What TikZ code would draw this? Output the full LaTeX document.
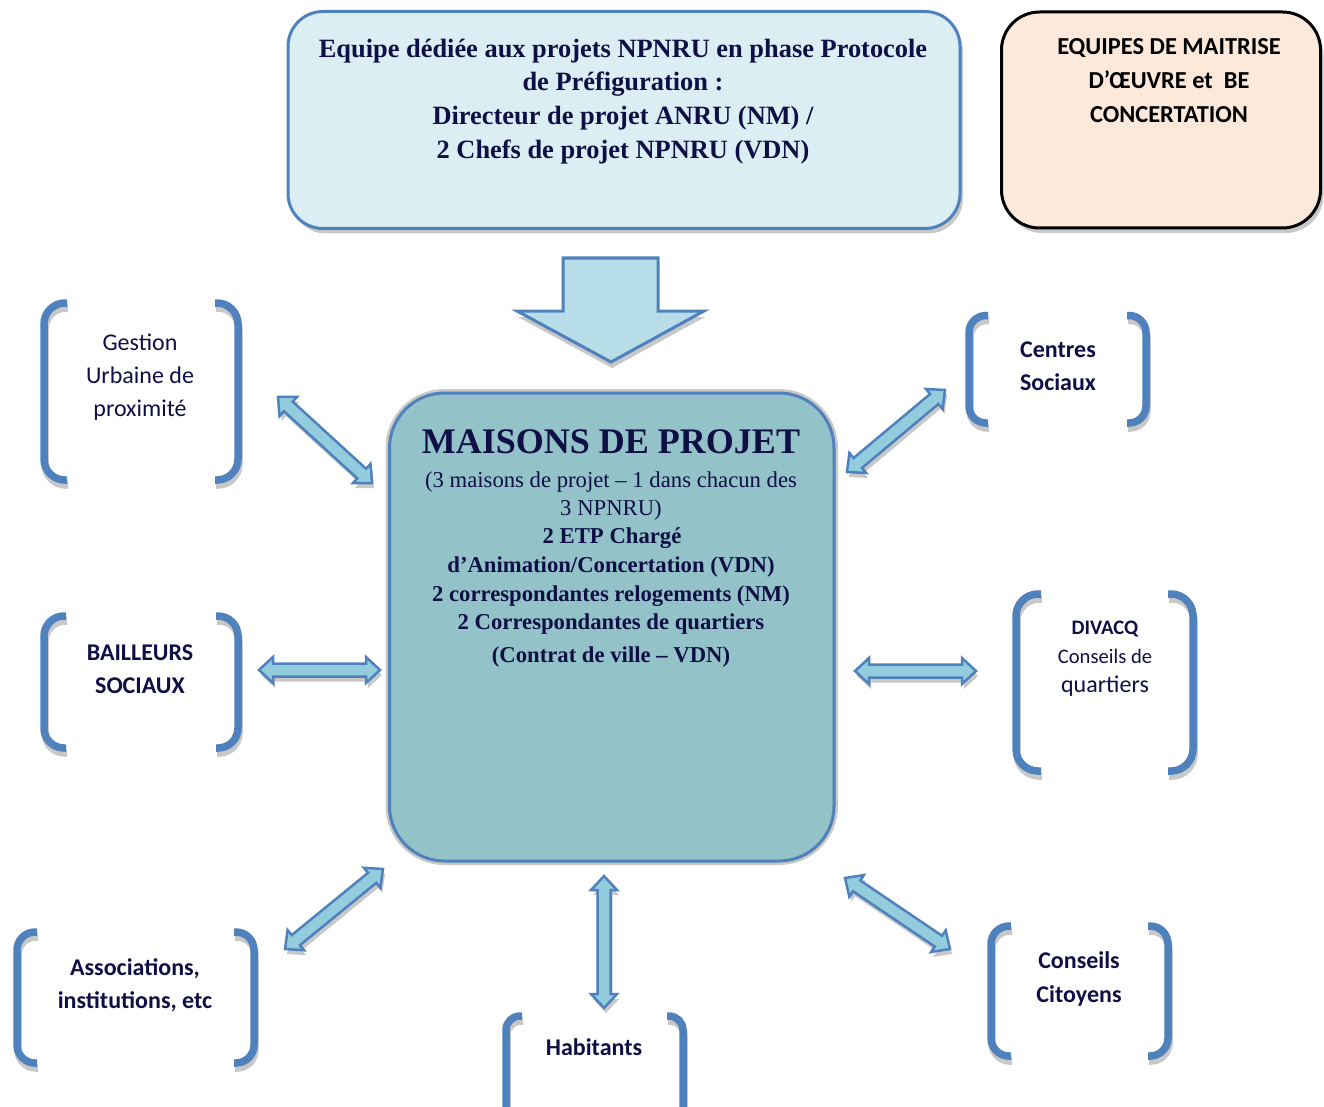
\documentclass[tikz,border=0pt]{standalone}
\usepackage{fontspec}
\setmainfont{Liberation Serif}
\newfontfamily\calib{Carlito}
\usetikzlibrary{calc,shadows}
\definecolor{navy}{HTML}{0F0F46}
\definecolor{bblue}{HTML}{4F81BD}
\definecolor{topfill}{HTML}{DAEEF3}
\definecolor{midfill}{RGB}{147,194,200}
\definecolor{arrfill}{HTML}{93CDDD}
\definecolor{downfill}{HTML}{B7DDE8}
\definecolor{peach}{HTML}{FDE9D9}
\definecolor{shadowgray}{RGB}{200,200,200}
\newcommand\arrpath[2]{(#1) -- ($(#1)!14pt!(#2)!13pt!90:(#2)$) -- ($(#1)!14pt!(#2)!6.5pt!90:(#2)$) -- ($(#2)!14pt!(#1)!6.5pt!-90:(#1)$) -- ($(#2)!14pt!(#1)!13pt!-90:(#1)$) -- (#2) -- ($(#2)!14pt!(#1)!13pt!90:(#1)$) -- ($(#2)!14pt!(#1)!6.5pt!90:(#1)$) -- ($(#1)!14pt!(#2)!6.5pt!-90:(#2)$) -- ($(#1)!14pt!(#2)!13pt!-90:(#2)$) -- cycle}
\newcommand\dblarrow[2]{%
  \path[arrshadow, transform canvas={shift={(2,5)}}] \arrpath{#1}{#2};
  \path[arrbody] \arrpath{#1}{#2};}
% left x, right x, top y, bottom y, stub, radius
\newcommand\brackets[6]{%
  \draw[brk, draw=shadowgray, shift={(1,5)}, rounded corners=#6] (#1+#5,#3) -- (#1,#3) -- (#1,#4) -- (#1+#5,#4) (#2-#5,#3) -- (#2,#3) -- (#2,#4) -- (#2-#5,#4);
  \draw[brk, draw=bblue, rounded corners=#6] (#1+#5,#3) -- (#1,#3) -- (#1,#4) -- (#1+#5,#4) (#2-#5,#3) -- (#2,#3) -- (#2,#4) -- (#2-#5,#4);}
\begin{document}
\begin{tikzpicture}[x=1pt,y=-1pt,
  lbl/.style={inner sep=0pt, anchor=base, text=navy},
  serB/.style={lbl, font=\fontsize{26.4}{30}\selectfont\bfseries},
  titleF/.style={lbl, font=\fontsize{36}{40}\selectfont\bfseries},
  bodyR/.style={lbl, font=\fontsize{22.7}{26}\selectfont},
  bodyB/.style={lbl, font=\fontsize{22.7}{26}\selectfont\bfseries},
  calR/.style={lbl, font=\calib\fontsize{24}{28}\selectfont},
  calB/.style={lbl, font=\calib\fontsize{24}{28}\selectfont\bfseries},
  calRs/.style={lbl, font=\calib\fontsize{20.6}{24}\selectfont},
  calBs/.style={lbl, font=\calib\fontsize{20.6}{24}\selectfont\bfseries},
  eqF/.style={inner sep=0pt, anchor=base, text=black, font=\calib\fontsize{24.4}{28}\selectfont\bfseries},
  brk/.style={line width=7.5pt, line cap=butt},
  arrbody/.style={fill=arrfill, draw=bblue, line width=2.5pt, line join=miter},
  arrshadow/.style={fill=shadowgray},
  topbox/.style={rectangle, rounded corners=35pt, draw=bblue, line width=3pt, fill=topfill,
     minimum width=672pt, minimum height=217pt, inner sep=0pt,
     general shadow={fill=shadowgray, shadow xshift=3pt, shadow yshift=-5pt}},
  peachbox/.style={rectangle, rounded corners=38pt, draw=black, line width=3pt, fill=peach,
     minimum width=319pt, minimum height=216pt, inner sep=0pt,
     general shadow={fill=shadowgray, shadow xshift=3pt, shadow yshift=-5pt}},
  midbox/.style={rectangle, rounded corners=55pt, draw=bblue, line width=3pt, fill=midfill,
     minimum width=444.5pt, minimum height=468pt, inner sep=0pt,
     preaction={draw=shadowgray, line width=8pt}},
  downarr/.style={fill=downfill, draw=bblue, line width=3pt, line join=miter}
]
\useasboundingbox (0,0) rectangle (1324,1107);

% ---- top box
\node[topbox] (top) at (624,120) {};
\node[serB] (t1) at (623,58) {Equipe dédiée aux projets NPNRU en phase Protocole};
\node[serB] (t2) at (623,91) {de Préfiguration :};
\node[serB] (t3) at (623,125) {Directeur de projet ANRU (NM) /};
\node[serB] (t4) at (623,159) {2 Chefs de projet NPNRU (VDN)};

% ---- top right box
\node[peachbox] (moe) at (1161,120) {};
\node[eqF] (e1) at (1169,55) {EQUIPES DE MAITRISE};
\node[eqF] (e2) at (1169,89) {D’ŒUVRE et \ BE};
\node[eqF] (e3) at (1169,123) {CONCERTATION};

% ---- down arrow
\fill[shadowgray, shift={(1,6)}] (563,311) -- (517,311) -- (611,362) -- (704,311) -- (658,311) -- cycle;
\draw[downarr] (563,258) -- (658,258) -- (658,311) -- (704,311) -- (611,362) -- (517,311) -- (563,311) -- cycle;

% ---- centre box
\node[midbox] (mp) at (611.75,627) {};
\node[titleF] (m0) at (611,453) {MAISONS DE PROJET};
\node[bodyR] (m1) at (611,487) {(3 maisons de projet – 1 dans chacun des};
\node[bodyR] (m2) at (611,515) {3 NPNRU)};
\node[bodyB] (m3) at (612,543) {2 ETP Chargé};
\node[bodyB] (m4) at (611,572) {d’Animation/Concertation (VDN)};
\node[bodyB] (m5) at (611,601) {2 correspondantes relogements (NM)};
\node[bodyB] (m6) at (611,629) {2 Correspondantes de quartiers};
\node[bodyB] (m7) at (611,662) {(Contrat de ville – VDN)};

% ---- brackets
\brackets{44}{238}{303}{480}{23}{21pt}
\node[calR] (g1) at (140,350) {Gestion};
\node[calR] (g2) at (140,383) {Urbaine de};
\node[calR] (g3) at (140,416) {proximité};

\brackets{969}{1146}{315.5}{423}{19}{17pt}
\node[calB] (c1) at (1058,357) {Centres};
\node[calB] (c2) at (1058,390) {Sociaux};

\brackets{44}{238}{616}{748}{22}{20pt}
\node[calB] (b1) at (140,660) {BAILLEURS};
\node[calB] (b2) at (140,693) {SOCIAUX};

\brackets{1016}{1193}{594}{771}{25}{22pt}
\node[calBs] (d1) at (1105,634) {DIVACQ};
\node[calRs] (d2) at (1105,663) {Conseils de};
\node[calR] (d3) at (1105,692) {quartiers};

\brackets{17}{254}{932}{1063}{20}{18pt}
\node[calB] (a1) at (135,975) {Associations,};
\node[calB] (a2) at (135,1008) {institutions, etc};

\brackets{506}{683}{1016}{1125}{16}{14pt}
\node[calB] (h1) at (594,1055) {Habitants};

\brackets{991}{1168}{926}{1056}{20}{18pt}
\node[calB] (cc1) at (1079,968) {Conseils};
\node[calB] (cc2) at (1079,1002) {Citoyens};

% ---- double arrows
\coordinate (ga) at (278,397);   \coordinate (gb) at (372,483);
\coordinate (ca) at (945,390);   \coordinate (cb) at (847,472);
\coordinate (ba) at (259,670);   \coordinate (bb) at (380,670);
\coordinate (da) at (976,671);   \coordinate (db) at (855,671);
\coordinate (aa) at (285,949);   \coordinate (ab) at (383,869);
\coordinate (ha) at (604,1008);  \coordinate (hb) at (604,876);
\coordinate (ka) at (950,949);   \coordinate (kb) at (845,878);
\dblarrow{ga}{gb}
\dblarrow{ca}{cb}
\dblarrow{ba}{bb}
\dblarrow{da}{db}
\dblarrow{aa}{ab}
\dblarrow{ha}{hb}
\dblarrow{ka}{kb}
\end{tikzpicture}
\end{document}
